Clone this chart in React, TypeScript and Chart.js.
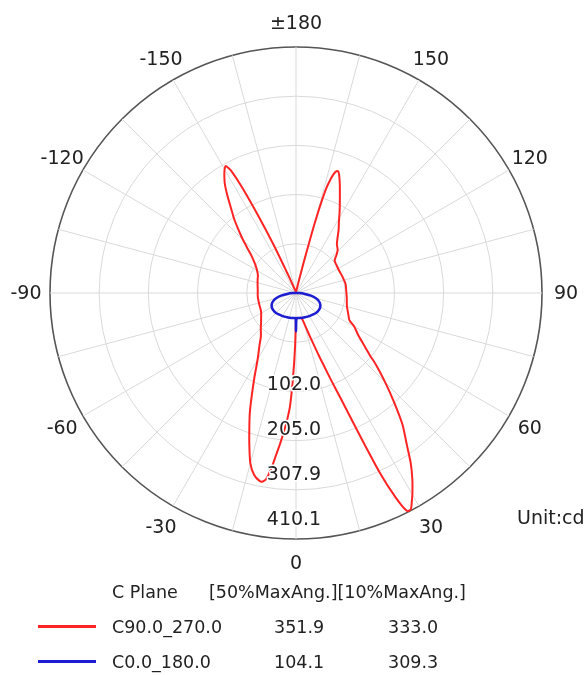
import React, { useEffect, useRef } from 'react';
import { Chart, registerables } from 'chart.js';

Chart.register(...registerables);

// Angular tick labels (photometric gamma angle), ±180 at the top, 0 at the bottom
const angleTickLabels = ['±180', '150', '120', '90', '60', '30', '0', '-30', '-60', '-90', '-120', '-150'];
const angleTickAngles = [180, 150, 120, 90, 60, 30, 0, -30, -60, -90, -120, -150];

// Radial tick labels (cd)
const radialTickLabels = ['102.0', '205.0', '307.9', '410.1'];
const radialTickValues = [102.0, 205.0, 307.9, 410.1];
const radialMax = 410.1;

// C90.0_270.0 plane (red): angle (deg) and intensity (cd)
const redAngles = [
  -175, -170, -165, -160, -158, -157, -156, -155, -154, -153, -152, -151, -150, -149, -147, -145,
  -142, -140, -136, -133, -130, -125, -120, -115, -110, -104, -95, -85, -75, -65, -60, -55,
  -50, -45, -39, -35, -30, -26, -23, -21, -19, -17, -15, -13, -11, -10, -9, -8,
  -7, -6, -5, -4, -3, -2, -1, 0, 1, 5, 10, 13, 15, 17,
  19, 20, 21, 22, 23, 24, 25, 26, 27, 28, 29, 30, 32, 34, 36, 39,
  42, 45, 48, 50, 53, 56, 60, 63, 67, 70, 75, 80, 85, 90, 100, 110,
  117, 125, 130, 133, 136, 140, 143, 146, 149, 152, 155, 158, 160, 161, 162, 163,
  164, 165, 166, 167, 168, 170, 175, 180,
];
const redValues = [
  1, 2, 4, 8, 15, 25, 45, 90, 140, 195, 232, 242, 238, 232, 218, 200,
  174, 160, 131, 112, 97, 83, 75, 70, 68, 66, 64, 64, 64, 65, 67, 71,
  76, 83, 93, 106, 128, 159, 190, 215, 239, 266, 294, 311, 319, 319, 313, 295,
  272, 252, 232, 212, 188, 140, 90, 45, 43, 42, 42, 44, 52, 68,
  92, 110, 130, 158, 191, 250, 330, 380, 408, 408, 398, 388, 366, 342, 315, 282,
  244, 210, 180, 160, 140, 125, 112, 100, 95, 92, 88, 86, 85, 84, 84, 82,
  81, 82, 84, 92, 100, 106, 115, 127, 139, 155, 173, 195, 210, 215, 212, 200,
  178, 120, 50, 20, 10, 5, 2, 0,
];

// C0.0_180.0 plane (blue): angle (deg) and intensity (cd)
const blueAngles = [
  -150, -120, -90, -88, -85, -80, -75, -70, -65, -60, -55, -50, -45, -40, -30, -20,
  -10, -5, -1, 0, 1, 5, 10, 20, 30, 40, 45, 50, 55, 60, 65, 70,
  75, 80, 85, 88, 90, 120, 150, 180,
];
const blueValues = [
  0, 0, 0, 5, 13.4, 25.3, 34.4, 40.8, 44.6, 46.7, 47.4, 47.4, 47, 46, 44.5, 43,
  42.3, 42, 42, 64, 42, 42, 42.3, 43, 44.5, 46, 47, 47.4, 47.4, 46.7, 44.6, 40.8,
  34.4, 25.3, 13.4, 5, 0, 0, 0, 0,
];

// Legend rows
const legendHeader = ['C Plane', '[50%MaxAng.][10%MaxAng.]'];
const legendNames = ['C90.0_270.0', 'C0.0_180.0'];
const legendHalf = ['351.9', '104.1'];
const legendTenth = ['333.0', '309.3'];
const legendColors = ['#ff2424', '#1c1cd0'];

const STEPS = 360;
const angleToIndex = (a: number) => (((180 - a) % 360) + 360) % 360;
const labels = Array.from({ length: STEPS }, (_, i) => String(180 - i));

function buildSeries(angles: number[], values: number[]) {
  const arr: (number | null)[] = new Array(STEPS).fill(null);
  angles.forEach((a, k) => {
    arr[angleToIndex(a)] = values[k];
  });
  return arr;
}

const FONT = '"DejaVu Sans", "Liberation Sans", sans-serif';

const overlayPlugin = {
  id: 'polarOverlay',
  afterDatasetsDraw(chart: any) {
    const scale = chart.scales.r;
    const ctx = chart.ctx as CanvasRenderingContext2D;
    ctx.save();
    ctx.font = `19px ${FONT}`;
    ctx.fillStyle = '#222';
    ctx.textAlign = 'center';
    ctx.textBaseline = 'middle';
    angleTickAngles.forEach((a, k) => {
      const p = scale.getPointPosition(angleToIndex(a), scale.drawingArea + 24);
      ctx.fillText(angleTickLabels[k], p.x, p.y + 1);
    });
    radialTickValues.forEach((v, k) => {
      const d = scale.getDistanceFromCenterForValue(v);
      const off = 0.727 * d + 0.19 * scale.drawingArea;
      const p = scale.getPointPosition(angleToIndex(0), off);
      ctx.strokeStyle = '#ffffff';
      ctx.lineWidth = 3;
      ctx.lineJoin = 'round';
      ctx.strokeText(radialTickLabels[k], p.x - 2, p.y + 1);
      ctx.fillText(radialTickLabels[k], p.x - 2, p.y + 1);
    });
    ctx.restore();
  },
};

export default function App() {
  const canvasRef = useRef<HTMLCanvasElement | null>(null);

  useEffect(() => {
    if (!canvasRef.current) return;
    const chart = new Chart(canvasRef.current, {
      type: 'radar',
      data: {
        labels,
        datasets: [
          {
            label: legendNames[0],
            data: buildSeries(redAngles, redValues),
            borderColor: legendColors[0],
            backgroundColor: 'transparent',
            borderWidth: 2,
            pointRadius: 0,
            fill: false,
            spanGaps: true,
            tension: 0.25,
            order: 1,
          },
          {
            label: legendNames[1],
            data: buildSeries(blueAngles, blueValues),
            borderColor: legendColors[1],
            backgroundColor: 'transparent',
            borderWidth: 2.5,
            pointRadius: 0,
            fill: false,
            spanGaps: true,
            tension: 0.2,
            order: 0,
          },
        ],
      } as any,
      options: {
        responsive: false,
        animation: false,
        events: [],
        layout: { padding: { left: 50, top: 47, right: 45, bottom: 136 } },
        elements: { line: { borderJoinStyle: 'round' } },
        plugins: { legend: { display: false }, tooltip: { enabled: false } },
        scales: {
          r: {
            min: 0,
            max: radialMax,
            startAngle: 0,
            ticks: { display: false, count: 6 },
            grid: {
              circular: true,
              color: (c: any) => (c.index === 5 ? '#555555' : '#d9d9d9'),
              lineWidth: (c: any) => (c.index === 5 ? 1.6 : 1),
            },
            angleLines: {
              display: true,
              color: '#d9d9d9',
              lineWidth: (c: any) => (c.index % 15 === 0 ? 1 : 0),
            },
            pointLabels: { display: false },
          },
        },
      } as any,
      plugins: [overlayPlugin],
    });
    return () => chart.destroy();
  }, []);

  const textStyle = (left: number, cy: number, size: number): React.CSSProperties => ({
    position: 'absolute',
    left,
    top: cy - 12,
    height: 24,
    lineHeight: '24px',
    fontSize: size,
    fontFamily: FONT,
    color: '#222',
    whiteSpace: 'pre',
  });

  const rowsY = [626.5, 661.5];

  return (
    <div
      style={{
        position: 'fixed',
        left: 0,
        top: 0,
        width: 587,
        height: 675,
        background: '#ffffff',
        overflow: 'hidden',
      }}
    >
      <canvas
        ref={canvasRef}
        width={587}
        height={675}
        style={{ position: 'absolute', left: 0, top: 0, width: 587, height: 675 }}
      />
      <div style={textStyle(517, 517, 19)}>Unit:cd</div>
      <div style={textStyle(112, 591.5, 17.5)}>{legendHeader[0]}</div>
      <div style={textStyle(209, 591.5, 17.5)}>{legendHeader[1]}</div>
      {legendNames.map((name, k) => (
        <React.Fragment key={name}>
          <div
            style={{
              position: 'absolute',
              left: 38,
              width: 58,
              top: rowsY[k] - 1.5,
              height: 3,
              background: legendColors[k],
            }}
          />
          <div style={textStyle(112, rowsY[k], 17.5)}>{name}</div>
          <div style={textStyle(274, rowsY[k], 17.5)}>{legendHalf[k]}</div>
          <div style={textStyle(388, rowsY[k], 17.5)}>{legendTenth[k]}</div>
        </React.Fragment>
      ))}
    </div>
  );
}
